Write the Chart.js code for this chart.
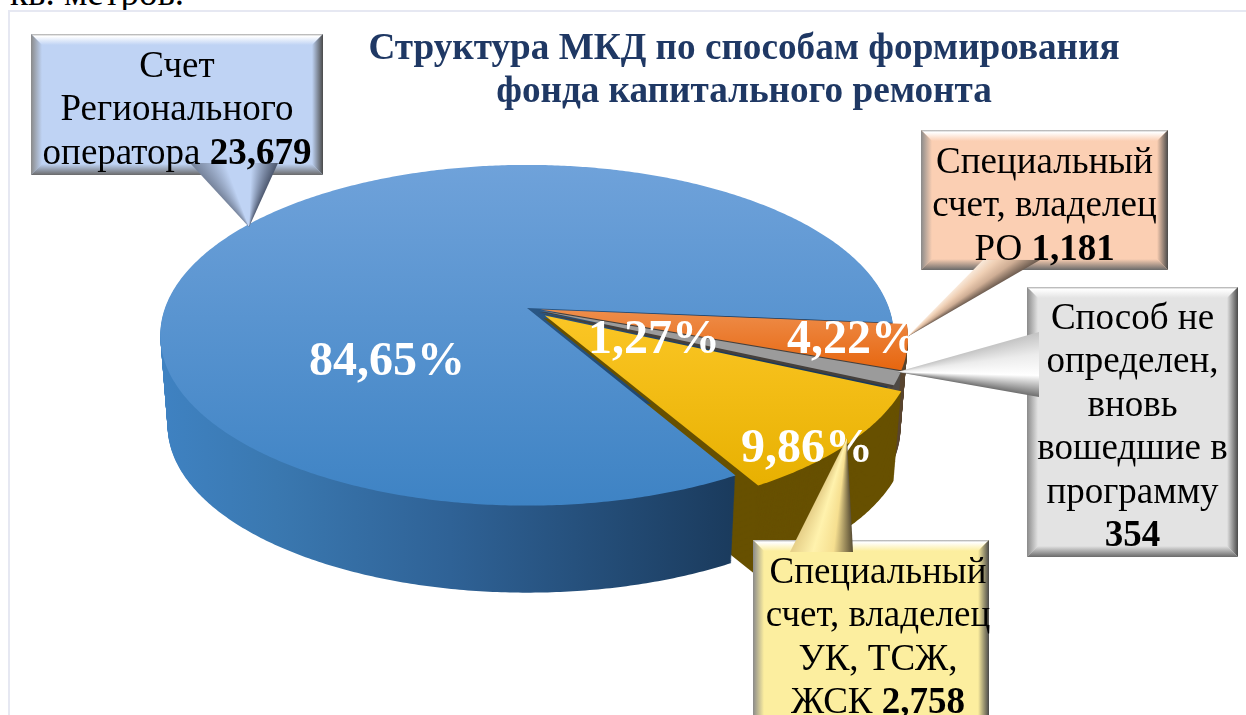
<!DOCTYPE html>
<html lang="ru">
<head>
<meta charset="utf-8">
<title>Структура МКД</title>
<script src="https://cdn.jsdelivr.net/npm/chart.js@4"></script>
<style>
	html, body { margin: 0; padding: 0; width: 1246px; height: 715px; overflow: hidden; background: #fff; }
	body { position: relative; font-family: "Liberation Serif", serif; color: #000; }
	#frame { position: absolute; left: 8px; top: 10px; width: 1300px; height: 800px; border: 2px solid #e6e8f2; background: #fff; }
	#pie { position: absolute; left: 0; top: 0; }
	.txt { position: absolute; text-align: center; white-space: nowrap; font-size: 37px; line-height: 43.4px; }
	#head { position: absolute; left: 344px; top: 25px; width: 800px; text-align: center; font-weight: bold; font-size: 37.2px; line-height: 43px; color: #1f3864; }
	#stray { position: absolute; left: 10px; top: -24px; font-size: 37px; line-height: 34px; white-space: nowrap; }
</style>
</head>
<body>
<div id="stray">кв. метров.</div>
<div id="frame"></div>
<canvas id="pie" width="1246" height="715"></canvas>
<div id="head">Структура МКД по способам формирования<br>фонда капитального ремонта</div>
<script>
/* global Chart */
'use strict';

// Data.
var categories = [ 'Счет Регионального оператора', 'Специальный счет, владелец РО', 'Способ не определен, вновь вошедшие в программу', 'Специальный счет, владелец УК, ТСЖ, ЖСК' ];
var shares     = [ 84.65, 4.22, 1.27, 9.86 ];
var counts     = [ '23,679', '1,181', '354', '2,758' ];
var calloutLines = [
	[ 'Счет', 'Регионального', 'оператора' ],
	[ 'Специальный', 'счет, владелец', 'РО' ],
	[ 'Способ не', 'определен,', 'вновь', 'вошедшие в', 'программу' ],
	[ 'Специальный', 'счет, владелец', 'УК, ТСЖ,', 'ЖСК' ]
];
var sliceOffsets = [ 0, 48, 48, 84 ];

// Look of the tilted pie: apex on screen, radii, perspective, thickness.
var cx = 527, cy = 308, rx = 362, ry = 166, persp = 0.16, depth = 91;

// Where each percent label sits.
var labelSpots = [ [ 387, 363 ], [ 853, 341 ], [ 654, 341 ], [ 807, 450 ] ];

// Callout boxes: x, y, w, h, fill, tail (two base points, tip, colours across the tail).
var callouts = [
	{ x: 31, y: 34, w: 292, h: 141, fill: '#bfd3f4', textTop: 43, textShift: 0,
		tail: [ [ 190, 163 ], [ 278, 163 ], [ 249, 227 ] ], stops: [ '#76839b', '#bfd3f4', '#bfd3f4', '#4d586f' ] },
	{ x: 921, y: 130, w: 247, h: 140, fill: '#fbcfb3', textTop: 139, textShift: 0,
		tail: [ [ 983, 260 ], [ 1040, 260 ], [ 907, 337 ] ], stops: [ '#f9e9da', '#efcfb4', '#cfae95', '#6d5c50' ] },
	{ x: 1027, y: 287, w: 211, h: 270, fill: '#e3e3e3', textTop: 295, textShift: 0,
		tail: [ [ 1039, 332 ], [ 1039, 397 ], [ 897, 372 ] ], stops: [ '#c4c4c4', '#ececec', '#ffffff', '#6f6f6f' ] },
	{ x: 753, y: 540, w: 236, h: 195, fill: '#fcee9f', textTop: 549, textShift: 7,
		tail: [ [ 790, 552 ], [ 853, 552 ], [ 847, 438 ] ], stops: [ '#e6cf88', '#fff2ad', '#f6df90', '#5a4f35' ] }
];

function project( u, v, t ) {
	var w = 1 - persp * v;
	var s = 1 - 0.02 * t;
	return [ cx + rx * s * u / w, cy + ry * s * v / w + depth * t ];
}

function slicePath( ctx, el, t, dx, dy ) {
	var shift = ( el.options.offset || 0 ) / 4 / el.outerRadius;
	var mid   = ( el.startAngle + el.endAngle ) / 2;
	var ou    = Math.cos( mid ) * shift;
	var ov    = Math.sin( mid ) * shift;
	var p     = project( ou, ov, t );

	ctx.beginPath();
	ctx.moveTo( p[0] + dx, p[1] + dy );
	for ( var a = el.startAngle; a < el.endAngle; a += 0.01 ) {
		p = project( ou + Math.cos( a ), ov + Math.sin( a ), t );
		ctx.lineTo( p[0] + dx, p[1] + dy );
	}
	p = project( ou + Math.cos( el.endAngle ), ov + Math.sin( el.endAngle ), t );
	ctx.lineTo( p[0] + dx, p[1] + dy );
	ctx.closePath();
}

function vGrad( ctx, y0, y1, c0, c1 ) {
	var g = ctx.createLinearGradient( 0, y0, 0, y1 );
	g.addColorStop( 0, c0 );
	g.addColorStop( 1, c1 );
	return g;
}

function sideBlue( ctx ) {
	var g = ctx.createLinearGradient( 160, 0, 740, 0 );
	g.addColorStop( 0, '#3f82c2' );
	g.addColorStop( 0.2, '#3a78b0' );
	g.addColorStop( 0.5, '#2f6296' );
	g.addColorStop( 1, '#1a3a5c' );
	return g;
}

function quad( ctx, pts, fill ) {
	ctx.beginPath();
	ctx.moveTo( pts[0][0], pts[0][1] );
	for ( var i = 1; i < pts.length; i++ ) {
		ctx.lineTo( pts[i][0], pts[i][1] );
	}
	ctx.closePath();
	ctx.fillStyle = fill;
	ctx.fill();
}

// Tail shading fans out from the tip, so the edges stay dark right down to the point.
function tailFill( ctx, c ) {
	var tip   = c.tail[2];
	var a0    = Math.atan2( c.tail[0][1] - tip[1], c.tail[0][0] - tip[0] );
	var a1    = Math.atan2( c.tail[1][1] - tip[1], c.tail[1][0] - tip[0] );
	var sweep = a1 - a0;
	var stops = c.stops;

	while ( sweep > Math.PI ) { sweep -= Math.PI * 2; }
	while ( sweep < -Math.PI ) { sweep += Math.PI * 2; }
	if ( sweep < 0 ) {
		a0 = a1;
		sweep = -sweep;
		stops = stops.slice().reverse();
	}

	var g = ctx.createConicGradient( a0, tip[0], tip[1] );
	var f = sweep / ( Math.PI * 2 );
	stops.forEach( function ( s, i ) {
		g.addColorStop( f * i / ( stops.length - 1 ), s );
	} );
	g.addColorStop( Math.min( f + 0.001, 1 ), stops[ stops.length - 1 ] );
	g.addColorStop( 1, stops[0] );
	return g;
}

function drawCallout( ctx, c ) {
	var b = 11, x2 = c.x + c.w, y2 = c.y + c.h;

	ctx.fillStyle = c.fill;
	ctx.fillRect( c.x, c.y, c.w, c.h );

	var g = ctx.createLinearGradient( 0, c.y, 0, c.y + b );
	g.addColorStop( 0, '#a9a9a9' );
	g.addColorStop( 0.2, '#ffffff' );
	g.addColorStop( 1, c.fill );
	quad( ctx, [ [ c.x, c.y ], [ x2, c.y ], [ x2 - b, c.y + b ], [ c.x + b, c.y + b ] ], g );

	g = ctx.createLinearGradient( c.x, 0, c.x + b, 0 );
	g.addColorStop( 0, '#8a8a8a' );
	g.addColorStop( 1, c.fill );
	quad( ctx, [ [ c.x, c.y ], [ c.x + b, c.y + b ], [ c.x + b, y2 - b ], [ c.x, y2 ] ], g );

	g = ctx.createLinearGradient( x2 - b, 0, x2, 0 );
	g.addColorStop( 0, c.fill );
	g.addColorStop( 1, '#4a4a4a' );
	quad( ctx, [ [ x2, c.y ], [ x2, y2 ], [ x2 - b, y2 - b ], [ x2 - b, c.y + b ] ], g );

	g = ctx.createLinearGradient( 0, y2 - b, 0, y2 );
	g.addColorStop( 0, c.fill );
	g.addColorStop( 1, '#6a6a6a' );
	quad( ctx, [ [ c.x, y2 ], [ c.x + b, y2 - b ], [ x2 - b, y2 - b ], [ x2, y2 ] ], g );

	quad( ctx, c.tail, tailFill( ctx, c ) );
}

var pie3d = {
	id: 'pie3d',
	beforeDatasetsDraw: function ( chart ) {
		var ctx  = chart.ctx;
		var arcs = chart.getDatasetMeta( 0 ).data;
		var sideColors = [ sideBlue( ctx ), '#5a4630', '#4f4a45', '#675000' ];
		var topColors  = [
			vGrad( ctx, 165, 505, '#6fa2da', '#3e83c4' ),
			vGrad( ctx, 310, 370, '#ee8d4a', '#e7660f' ),
			'#9b9b9b',
			vGrad( ctx, 315, 490, '#fbc625', '#e7b000' )
		];

		// Walls. The blue one goes last, it stands in front of the pulled out slices.
		[ 1, 2, 3, 0 ].forEach( function ( i ) {
			ctx.fillStyle = sideColors[ i ];
			for ( var d = depth; d > 0; d-- ) {
				slicePath( ctx, arcs[ i ], d / depth, 0, 0 );
				ctx.fill();
			}
		} );

		// Top faces.
		arcs.forEach( function ( el, i ) {
			if ( i > 0 ) {
				ctx.fillStyle = i === 3 ? '#675000' : '#45403c';
				slicePath( ctx, el, 0, -1.5, 2.5 );
				ctx.fill();
			}
			ctx.fillStyle = topColors[ i ];
			slicePath( ctx, el, 0, 0, 0 );
			ctx.fill();
		} );

		return false;
	},
	afterDraw: function ( chart ) {
		var ctx = chart.ctx;

		// Percent labels.
		ctx.save();
		ctx.font = 'bold 48px "Liberation Serif", serif';
		ctx.fillStyle = '#fff';
		ctx.textAlign = 'center';
		ctx.textBaseline = 'middle';
		shares.forEach( function ( v, i ) {
			ctx.fillText( v.toFixed( 2 ).replace( '.', ',' ) + '%', labelSpots[ i ][0], labelSpots[ i ][1] );
		} );
		ctx.restore();

		callouts.forEach( function ( c ) {
			drawCallout( ctx, c );
		} );
	}
};

// Callout text stays in the page, on top of the canvas.
callouts.forEach( function ( c, i ) {
	var div = document.createElement( 'div' );
	var lines = calloutLines[ i ].slice();
	var last = lines.length - 1;
	div.className = 'txt';
	div.style.left = ( c.x + c.textShift ) + 'px';
	div.style.width = c.w + 'px';
	div.style.top = c.textTop + 'px';
	lines.forEach( function ( line, n ) {
		div.appendChild( document.createTextNode( line ) );
		if ( n < last ) {
			div.appendChild( document.createElement( 'br' ) );
		}
	} );
	if ( i === 2 ) {
		div.appendChild( document.createElement( 'br' ) );
	} else {
		div.appendChild( document.createTextNode( ' ' ) );
	}
	var bold = document.createElement( 'b' );
	bold.textContent = counts[ i ];
	div.appendChild( bold );
	document.body.appendChild( div );
} );

new Chart( document.getElementById( 'pie' ).getContext( '2d' ), {
	type: 'pie',
	data: {
		labels: categories,
		datasets: [ {
			data: shares,
			offset: sliceOffsets,
			hoverOffset: 0,
			borderWidth: 0,
			backgroundColor: [ '#4a90d2', '#ed7d31', '#a5a5a5', '#ffc000' ]
		} ]
	},
	options: {
		responsive: false,
		animation: false,
		events: [],
		rotation: 150.26,
		plugins: {
			legend: { display: false },
			tooltip: { enabled: false }
		}
	},
	plugins: [ pie3d ]
} );
</script>
</body>
</html>
